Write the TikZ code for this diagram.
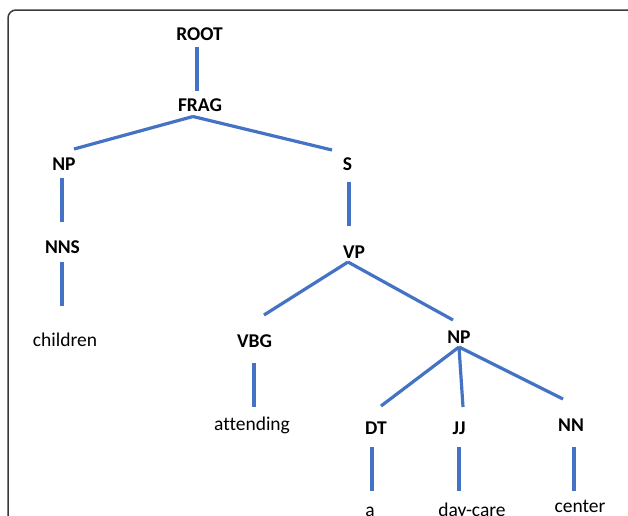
\documentclass[tikz,border=0pt]{standalone}
\usepackage{fontspec}
\setmainfont{Carlito}[Ligatures={NoCommon}]
\definecolor{treeblue}{HTML}{4472C4}
\definecolor{framegray}{HTML}{3A3A3A}
\begin{document}
\begin{tikzpicture}[x=1pt,y=-1pt,
  lab/.style={font=\fontsize{19.5}{23}\selectfont\bfseries, inner sep=0pt, outer sep=0pt, text height=13pt, text depth=0pt},
  wrd/.style={font=\fontsize{19.5}{23}\selectfont, inner sep=0pt, outer sep=0pt, anchor=base},
  tl/.style={draw=treeblue, line width=3.2pt},
  frame/.style={draw=framegray, line width=1.5pt, rounded corners=8pt}]
\useasboundingbox (0,0) rectangle (628,515);
\draw[frame] (8,530) -- (8,10) -- (640,10);
% labels
\node[lab] (root) at (199.5,33.5) {ROOT};
\node[lab] (frag) at (200,105) {FRAG};
\node[lab] (np1) at (64,163.5) {NP};
\node[lab] (s) at (347.5,164) {S};
\node[lab] (nns) at (62.5,246.5) {NNS};
\node[lab] (vp) at (354,251.5) {VP};
\node[lab] (vbg) at (254.5,341) {VBG};
\node[lab] (np2) at (459,336.5) {NP};
\node[lab] (dt) at (376,427.5) {DT};
\node[lab] (jj) at (459,427.5) {JJ};
\node[lab] (nn) at (571,424.5) {NN};
% words
\node[wrd] (children) at (65,346.5) {children};
\node[wrd] (attending) at (252,430) {attending};
\node[wrd] (a) at (370,516) {a};
\node[wrd] (daycare) at (472,516.5) {day-care};
\node[wrd] (center) at (580,512) {center};
% connectors
\draw[tl] ([shift={(-2.5pt,-7pt)}]root.south) -- ([shift={(-3pt,7.5pt)}]frag.north);
\draw[tl] ([shift={(-7pt,-5pt)}]frag.south) -- ([shift={(10pt,8pt)}]np1.north);
\draw[tl] ([shift={(-7pt,-5pt)}]frag.south) -- ([shift={(-15.5pt,7.5pt)}]s.north);
\draw[tl] ([shift={(-2pt,-8pt)}]np1.south) -- ([shift={(-0.5pt,18pt)}]nns.north);
\draw[tl] ([shift={(-0.5pt,-9pt)}]nns.south) -- ([shift={(-3pt,40.5pt)}]children.base);
\draw[tl] ([shift={(1.5pt,-11.5pt)}]s.south) -- ([shift={(-5pt,19pt)}]vp.north);
\draw[tl] ([shift={(-6pt,-4pt)}]vp.south) -- ([shift={(9.5pt,19.5pt)}]vbg.north);
\draw[tl] ([shift={(-6pt,-4pt)}]vp.south) -- ([shift={(-6pt,10pt)}]np2.north);
\draw[tl] ([shift={(-0.5pt,-15.5pt)}]vbg.south) -- ([shift={(2pt,23pt)}]attending.base);
\draw[tl] ([shift={(0pt,-4pt)}]np2.south) -- ([shift={(5pt,15pt)}]dt.north);
\draw[tl] ([shift={(0pt,-4pt)}]np2.south) -- ([shift={(4pt,14pt)}]jj.north);
\draw[tl] ([shift={(0pt,-4pt)}]np2.south) -- ([shift={(-8pt,19pt)}]nn.north);
\draw[tl] ([shift={(-4pt,-13pt)}]dt.south) -- ([shift={(2pt,25pt)}]a.base);
\draw[tl] ([shift={(0pt,-13pt)}]jj.south) -- ([shift={(-13pt,25.5pt)}]daycare.base);
\draw[tl] ([shift={(3pt,-16pt)}]nn.south) -- ([shift={(-6pt,21pt)}]center.base);
\end{tikzpicture}
\end{document}
